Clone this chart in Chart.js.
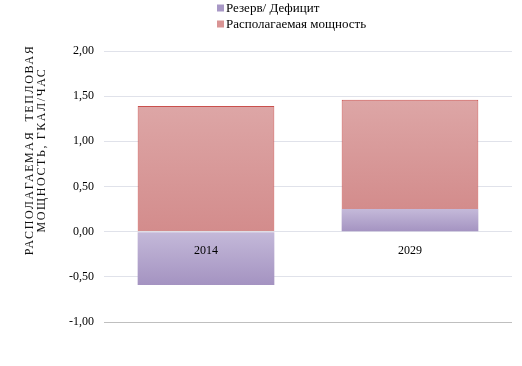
<!DOCTYPE html>
<html>
<head>
<meta charset="utf-8">
<script src="https://cdn.jsdelivr.net/npm/chart.js@4"></script>
<style>
  body { margin: 0; background: #fff; }
  #wrap { width: 522px; height: 366px; }
</style>
</head>
<body>
<div id="wrap"><canvas id="chart"></canvas></div>
<script>
// Данные диаграммы
const years = ['2014', '2029'];
const reserve = [-0.59, 0.25];      // Резерв/ Дефицит
const available = [1.39, 1.21];     // Располагаемая мощность (над резервом)
const yTicks = [-1, -0.5, 0, 0.5, 1, 1.5, 2];
const seriesNames = ['Резерв/ Дефицит', 'Располагаемая мощность'];
const axisTitle = ['РАСПОЛАГАЕМАЯ  ТЕПЛОВАЯ', 'МОЩНОСТЬ, ГКАЛ/ЧАС'];

const serif = '"Liberation Serif", "Times New Roman", serif';

// градиент по высоте каждого столбика (светлее сверху)
function barGradient(top, bottom) {
    return function (context) {
        const chart = context.chart;
        const y = chart.scales.y;
        if (!y || context.dataIndex === undefined) return bottom;
        const dsIndex = context.datasetIndex;
        const value = context.raw;
        // начало стека для этого столбика
        let start = 0;
        for (let d = 0; d < dsIndex; d++) {
            const v = chart.data.datasets[d].data[context.dataIndex];
            if ((v >= 0) === (value >= 0)) start += v;
        }
        const end = start + value;
        const yTop = y.getPixelForValue(Math.max(start, end));
        const yBot = y.getPixelForValue(Math.min(start, end));
        if (!isFinite(yTop) || !isFinite(yBot) || yTop === yBot) return bottom;
        const g = chart.ctx.createLinearGradient(0, yTop, 0, yBot);
        g.addColorStop(0, top);
        g.addColorStop(1, bottom);
        return g;
    };
}

// Легенда и подпись оси рисуются вручную (две строки, как в оригинале)
const extraText = {
    id: 'extraText',
    afterDraw(chart) {
        const ctx = chart.ctx;
        const area = chart.chartArea;
        ctx.save();
        // легенда
        ctx.font = '13px ' + serif;
        ctx.textBaseline = 'middle';
        ctx.textAlign = 'left';
        const lx = area.left + 113;
        chart.data.datasets.forEach((ds, i) => {
            const cy = 8 + i * 16;
            ctx.fillStyle = ds.legendColor;
            ctx.fillRect(lx, cy - 3.5, 7, 7);
            ctx.fillStyle = '#000';
            ctx.fillText(ds.label, lx + 9, cy + 1);
        });
        // подпись оси Y
        ctx.font = '12px ' + serif;
        ctx.letterSpacing = '1.6px';
        ctx.fillStyle = '#111';
        ctx.textAlign = 'center';
        ctx.translate(30, area.top + 99);
        ctx.rotate(-Math.PI / 2);
        axisTitle.forEach((line, i) => {
            ctx.fillText(line, 0, i * 12);
        });
        ctx.restore();
    }
};

const ctx = document.getElementById('chart').getContext('2d');

new Chart(ctx, {
    type: 'bar',
    data: {
        labels: years,
        datasets: [{
            label: seriesNames[0],
            data: reserve,
            backgroundColor: barGradient('#c4b9d9', '#a493c1'),
            legendColor: '#a898c6',
            borderWidth: 0,
            categoryPercentage: 0.67,
            barPercentage: 1
        }, {
            label: seriesNames[1],
            data: available,
            backgroundColor: barGradient('#dda6a6', '#d38c8c'),
            legendColor: '#d99494',
            borderColor: '#c9504d',
            borderWidth: 1,
            categoryPercentage: 0.67,
            barPercentage: 1
        }]
    },
    options: {
        responsive: true,
        maintainAspectRatio: false,
        animation: false,
        layout: { padding: { left: 60, right: 10, top: 51, bottom: 44 } },
        plugins: {
            legend: { display: false },
            tooltip: { enabled: false }
        },
        scales: {
            x: {
                stacked: true,
                position: { y: 0 },
                grid: { display: false, drawTicks: false },
                border: { display: false },
                ticks: { z: 1, color: '#000', padding: 12, font: { family: serif, size: 12 } }
            },
            y: {
                stacked: true,
                min: -1,
                max: 2,
                afterFit: s => { s.width = 44; },
                afterBuildTicks: s => { s.ticks = yTicks.map(v => ({ value: v })); },
                grid: {
                    drawTicks: false,
                    color: c => (c.tick && c.tick.value === -1 ? '#bfbfbf' : '#e0e2ea')
                },
                border: { display: false },
                ticks: {
                    color: '#000',
                    padding: 10,
                    font: { family: serif, size: 12 },
                    callback: v => v.toFixed(2).replace('.', ',')
                }
            }
        }
    },
    plugins: [extraText]
});
</script>
</body>
</html>
